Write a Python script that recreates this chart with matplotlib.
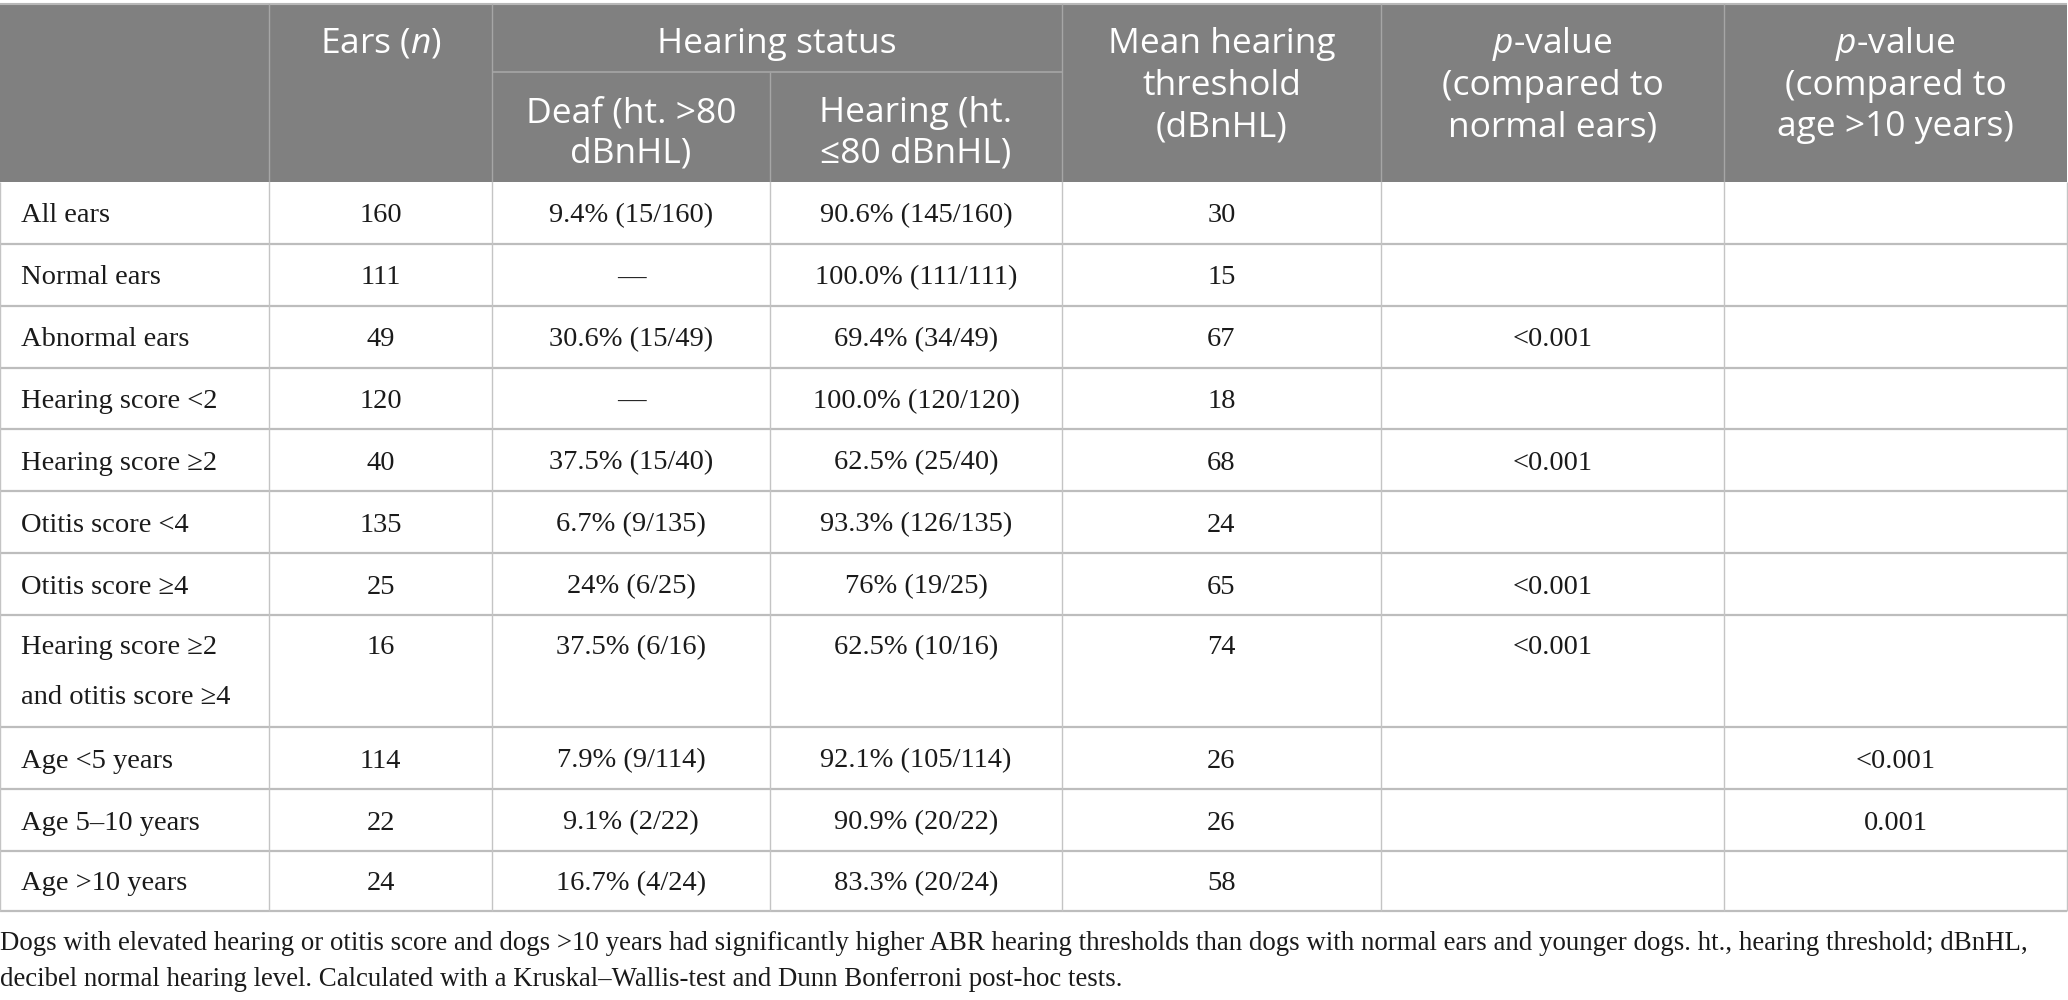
import matplotlib.pyplot as plt
from matplotlib.patches import Rectangle

# table content
row_labels = ['All ears', 'Normal ears', 'Abnormal ears', 'Hearing score <2',
              'Hearing score ≥2', 'Otitis score <4', 'Otitis score ≥4',
              'Hearing score ≥2\nand otitis score ≥4', 'Age <5 years',
              'Age 5–10 years', 'Age >10 years']
ears = ['160', '111', '49', '120', '40', '135', '25', '16', '114', '22', '24']
deaf = ['9.4% (15/160)', '—', '30.6% (15/49)', '—', '37.5% (15/40)',
        '6.7% (9/135)', '24% (6/25)', '37.5% (6/16)', '7.9% (9/114)',
        '9.1% (2/22)', '16.7% (4/24)']
hearing = ['90.6% (145/160)', '100.0% (111/111)', '69.4% (34/49)',
           '100.0% (120/120)', '62.5% (25/40)', '93.3% (126/135)',
           '76% (19/25)', '62.5% (10/16)', '92.1% (105/114)',
           '90.9% (20/22)', '83.3% (20/24)']
mean_threshold = ['30', '15', '67', '18', '68', '24', '65', '74', '26', '26', '58']
p_normal = ['', '', '<0.001', '', '<0.001', '', '<0.001', '<0.001', '', '', '']
p_age = ['', '', '', '', '', '', '', '', '<0.001', '0.001', '']

header_cols = [['Ears ($n$)'],
               ['Deaf (ht. >80', 'dBnHL)'],
               ['Hearing (ht.', '≤80 dBnHL)'],
               ['Mean hearing', 'threshold', '(dBnHL)'],
               ['$p$-value', '(compared to', 'normal ears)'],
               ['$p$-value', '(compared to', 'age >10 years)']]
group_title = 'Hearing status'

footnote = ['Dogs with elevated hearing or otitis score and dogs >10 years had '
            'significantly higher ABR hearing thresholds than dogs with normal '
            'ears and younger dogs. ht., hearing threshold; dBnHL,',
            'decibel normal hearing level. Calculated with a Kruskal–Wallis-test '
            'and Dunn Bonferroni post-hoc tests.']

# layout in pixels
col_edges = [0, 269, 492, 770, 1062, 1381, 1724, 2067]
row_edges = [182, 244, 306, 368, 429, 491, 553, 615, 727, 789, 851, 911]
top = 4
sub_line = 72
head_lines_y = [44, 86, 127]
sub_lines_y = [113, 154]

plt.rcParams['mathtext.fontset'] = 'custom'
plt.rcParams['mathtext.rm'] = 'Open Sans'
plt.rcParams['mathtext.it'] = 'Open Sans:italic'

head_font = dict(family=['Open Sans', 'DejaVu Sans'], fontsize=25.5, color='white')
body_font = dict(family=['Liberation Serif', 'DejaVu Serif'], fontsize=20.5,
                 color='#1a1a1a')
note_font = dict(family=['Liberation Serif', 'DejaVu Serif'], fontsize=19.4,
                 color='#1a1a1a')

fig = plt.figure(figsize=(20.68, 10), dpi=100)
ax = fig.add_axes([0, 0, 1, 1])
ax.set_xlim(0, 2068)
ax.set_ylim(1000, 0)
ax.axis('off')

# header background
ax.add_patch(Rectangle((0, top), col_edges[-1], row_edges[0] - top,
                       facecolor='#808080', edgecolor='none'))
ax.hlines(top, 0, col_edges[-1], color='#b8b8b8', lw=1.5)
ax.hlines(sub_line, col_edges[2], col_edges[4], color='#a6a6a6', lw=1.2)
for x in col_edges[1:-1]:
    y_start = sub_line if x == col_edges[3] else top
    ax.vlines(x, y_start, row_edges[0], color='#a6a6a6', lw=1.0)


def cx(i):
    return (col_edges[i] + col_edges[i + 1]) / 2


# header text
ax.text((col_edges[2] + col_edges[4]) / 2, head_lines_y[0], group_title,
        ha='center', va='center', **head_font)
for i, lines in enumerate(header_cols):
    ys = sub_lines_y if i in (1, 2) else head_lines_y
    for line, y in zip(lines, ys):
        ax.text(cx(i + 1), y, line, ha='center', va='center', **head_font)

# body grid
for y in row_edges[1:]:
    ax.hlines(y, 0, col_edges[-1], color='#bdbdbd', lw=1.6)
for x in col_edges:
    ax.vlines(x, row_edges[0], row_edges[-1], color='#c4c4c4', lw=1.0)

# body text
columns = [ears, deaf, hearing, mean_threshold, p_normal, p_age]
for r, label in enumerate(row_labels):
    y0, y1 = row_edges[r], row_edges[r + 1]
    if '\n' in label:
        yc = y0 + 33
        for k, part in enumerate(label.split('\n')):
            ax.text(21, yc + 50 * k, part, ha='left', va='center', **body_font)
    else:
        yc = (y0 + y1) / 2 + 3
        ax.text(21, yc, label, ha='left', va='center', **body_font)
    for c, col in enumerate(columns):
        if col[r]:
            ax.text(cx(c + 1), yc, col[r], ha='center', va='center', **body_font)

# footnote
ax.text(0, 943, footnote[0], ha='left', va='center', **note_font)
ax.text(0, 980, footnote[1], ha='left', va='center', **note_font)

fig.savefig('out.png', dpi=100)
